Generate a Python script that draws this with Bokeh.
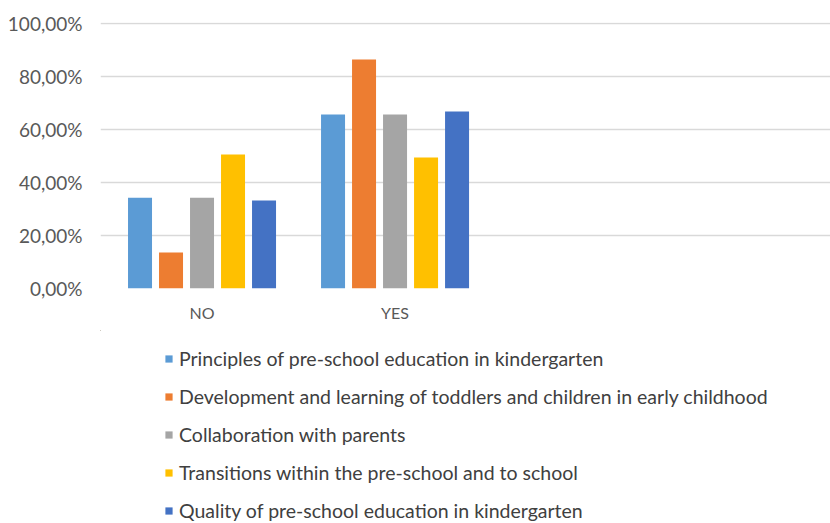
from bokeh.plotting import figure
from bokeh.layouts import column
from bokeh.models import ColumnDataSource, FixedTicker, Legend, LegendItem, Range1d
from bokeh.embed import file_html
from bokeh.resources import INLINE

categories = ["NO", "YES"]
series_names = [
    "Principles of pre-school education in kindergarten",
    "Development and learning of toddlers and children in early childhood",
    "Collaboration with parents",
    "Transitions within the pre-school and to school",
    "Quality of pre-school education in kindergarten",
]
principles = [34.3, 65.7]
development = [13.6, 86.4]
collaboration = [34.3, 65.7]
transitions = [50.6, 49.4]
quality = [33.2, 66.8]
colors = ["#5B9BD5", "#ED7D31", "#A5A5A5", "#FFC000", "#4472C4"]
y_ticks = [0, 20, 40, 60, 80, 100]

series_values = [principles, development, collaboration, transitions, quality]

# ---- chart figure ----
p = figure(width=830, height=330, output_backend="svg", toolbar_location=None,
           x_range=Range1d(-0.526, 3.256), y_range=Range1d(0, 100.4),
           min_border_left=100, min_border_right=0, min_border_top=22,
           min_border_bottom=42)
p.outline_line_color = None
p.background_fill_color = "white"
p.border_fill_color = "white"

step = 31 / 193
bw = 24 / 193
xs_base = list(range(len(categories)))
sources = []
for i, (vals, col) in enumerate(zip(series_values, colors)):
    src = ColumnDataSource(dict(x=[x + (i - 2) * step for x in xs_base], top=vals))
    sources.append(src)
    p.vbar(x="x", top="top", bottom=0, width=bw, source=src,
           fill_color=col, line_color=None)

p.xaxis.ticker = FixedTicker(ticks=xs_base)
p.xaxis.major_label_overrides = {i: c for i, c in enumerate(categories)}
p.xaxis.axis_line_color = None
p.xaxis.major_tick_line_color = None
p.xaxis.major_tick_out = 0
p.xaxis.major_tick_in = 0
p.xaxis.minor_tick_line_color = None
p.xaxis.major_label_text_font = "Lato"
p.xaxis.major_label_text_font_size = "16px"
p.xaxis.major_label_text_color = "#595959"
p.xaxis.major_label_standoff = 14

p.yaxis.ticker = FixedTicker(ticks=y_ticks)
p.yaxis.major_label_overrides = {t: f"{t},00%" for t in y_ticks}
p.yaxis.axis_line_color = None
p.yaxis.major_tick_line_color = None
p.yaxis.major_tick_out = 0
p.yaxis.major_tick_in = 0
p.yaxis.minor_tick_line_color = None
p.yaxis.major_label_text_font = "Lato"
p.yaxis.major_label_text_font_size = "19px"
p.yaxis.major_label_text_color = "#595959"
p.yaxis.major_label_standoff = 18

p.xgrid.grid_line_color = None
p.ygrid.grid_line_color = "#D9D9D9"
p.ygrid.grid_line_width = 1.5

# ---- legend figure (swatches come from the same series sources) ----
q = figure(width=830, height=193, output_backend="svg", toolbar_location=None,
           x_range=Range1d(100, 101), y_range=Range1d(-200, -100),
           x_axis_location=None, y_axis_location=None,
           min_border_left=0, min_border_right=0, min_border_top=0,
           min_border_bottom=0)
q.outline_line_color = None
q.grid.grid_line_color = None
leg_renderers = []
for src, col in zip(sources, colors):
    r = q.vbar(x="x", top="top", bottom=0, width=bw, source=src,
               fill_color=col, line_color=None)
    leg_renderers.append(r)

items = [LegendItem(label=n, renderers=[r]) for n, r in zip(series_names, leg_renderers)]
legend = Legend(items=items, location=(64, 1), orientation="vertical",
                glyph_width=9, glyph_height=9, label_height=19, spacing=15,
                label_standoff=6, padding=0, margin=0,
                label_text_font="Lato", label_text_font_size="19.5px",
                label_text_color="#404040", border_line_color=None,
                background_fill_alpha=0)
q.add_layout(legend, "center")

layout = column(p, q, spacing=0)
open("out.html", "w").write(file_html(layout, INLINE))
